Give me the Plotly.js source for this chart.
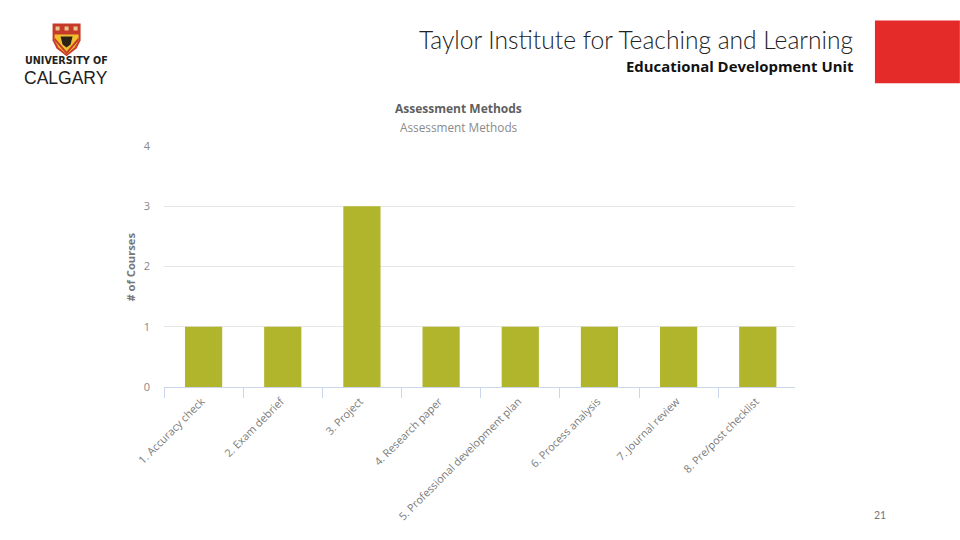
<!DOCTYPE html>
<html><head><meta charset="utf-8">
<script src="https://cdn.plot.ly/plotly-3.0.1.min.js"></script>
<style>html,body{margin:0;padding:0;background:#fff}#c{width:960px;height:540px}
svg text{font-variant-ligatures:none}</style>
</head><body><div id="c"></div>
<script>
const categories = ["1. Accuracy check","2. Exam debrief","3. Project","4. Research paper","5. Professional development plan","6. Process analysis","7. Journal review","8. Pre/post checklist"];
const courses = [1,1,3,1,1,1,1,1];
const yTicks = [0,1,2,3,4];
const chartTitle = "Assessment Methods";
const chartSubtitle = "Assessment Methods";
const yLabel = "# of Courses";
const heading = "Taylor Institute for Teaching and Learning";
const subheading = "Educational Development Unit";
const pageNumber = "21";
const logoTop = "UNIVERSITY OF";
const logoBottom = "CALGARY";

const L=163.5,R=795,T=145.5,B=387.5,W=960,H=540;
const px=x=>(x-L)/(R-L), py=y=>(B-y+0.5)/(B-T);
const pPath=pts=>pts.map((p,i)=>(i?'L':'M')+px(p[0]).toFixed(4)+','+py(p[1]).toFixed(4)).join(' ')+' Z';
const rect=(x0,y0,x1,y1,c)=>({type:'rect',xref:'paper',yref:'paper',x0:px(x0),x1:px(x1),y0:py(y0),y1:py(y1),fillcolor:c,line:{width:0},layer:'above'});
const poly=(pts,c)=>({type:'path',xref:'paper',yref:'paper',path:pPath(pts),fillcolor:c,line:{width:0},layer:'above'});
const txt=(x,y,t,size,color,family,anchor,extra)=>Object.assign({xref:'paper',yref:'paper',x:px(x),y:py(y),text:t,showarrow:false,xanchor:anchor||'center',yanchor:'middle',font:{size,color,family}},extra||{});

const shapes=[
  rect(875,20,960,83,'#e52a2a'),
  poly([[52,23],[80,23],[80,40],[76,48],[66,56],[56,48],[52,40]],'#c63a2c'),
  poly([[54,34],[78,34],[78,40],[74,47],[66,54],[58,47],[54,40]],'#f2c02e'),
  poly([[54,37],[60,44],[66,51],[72,44],[78,37],[78,40],[72,47],[66,54],[60,47],[54,40]],'#c63a2c'),
  poly([[60,36],[72,36],[70,44],[66,47],[62,44]],'#2d2218'),
  rect(55,26,59,30,'#e9c98a'),rect(64,26,68,30,'#e9c98a'),rect(73,26,77,30,'#e9c98a')
];
const annotations=[
  txt(855,39.5,heading,24.6,'#222','Lato','right',{font:{size:24.6,color:'#222',family:'Lato, Carlito, sans-serif',weight:300}}),
  txt(855,65.5,'<b>'+subheading+'</b>',14.9,'#111','Open Sans, sans-serif','right'),
  txt(888,516.5,pageNumber,10.5,'#777','Lato, Carlito, sans-serif','right'),
  txt(66,60.5,'<b>'+logoTop+'</b>',9.6,'#222','DejaVu Sans, sans-serif'),
  txt(65.5,78,logoBottom,17.5,'#222','Liberation Sans, sans-serif'),
  txt(458.5,108.5,'<b>'+chartTitle+'</b>',12,'#5f5f5f','Open Sans, sans-serif'),
  txt(458.5,127,chartSubtitle,11.8,'#8a8a8a','Open Sans, sans-serif'),
  txt(130,267.5,'<b>'+yLabel+'</b>',11.2,'#777','Open Sans, sans-serif','center',{textangle:-90})
];
Plotly.newPlot('c',[{type:'bar',x:categories,y:courses,marker:{color:'#b0b52b'},width:0.47,hoverinfo:'skip'}],{
  width:W,height:H,autosize:false,
  margin:{l:L,r:W-R,t:T,b:H-B,pad:0},
  paper_bgcolor:'#fff',plot_bgcolor:'#fff',showlegend:false,
  font:{family:'Open Sans, sans-serif',color:'#888',size:11},
  xaxis:{type:'category',range:[-0.5,7.47],tickson:'boundaries',ticks:'outside',ticklen:10,tickwidth:1,tickcolor:'#ccd6eb',
    showline:true,linecolor:'#ccd6eb',linewidth:1,showgrid:false,zeroline:false,tickangle:-45,
    tickfont:{size:10.8,color:'#7a7a7a',family:'Open Sans, sans-serif'},ticklabelstandoff:3,ticklabelshift:-2,automargin:false},
  yaxis:{range:[0,4],tickvals:yTicks,ticks:'',showline:false,showgrid:true,gridcolor:'#e6e6e6',gridwidth:1,zeroline:false,
    tickfont:{size:11,color:'#888',family:'Open Sans, sans-serif'},ticklabelstandoff:13,automargin:false},
  shapes,annotations
},{staticPlot:true,displayModeBar:false});
</script></body></html>
